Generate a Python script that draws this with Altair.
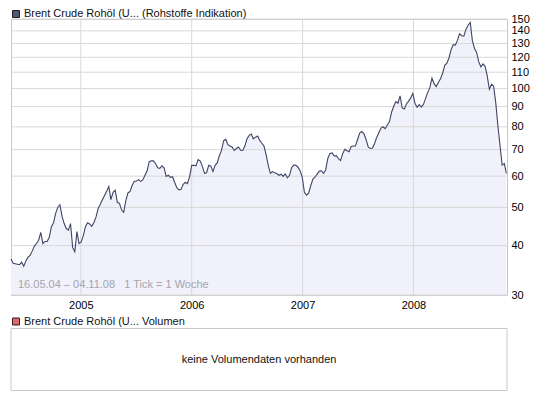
import altair as alt
import pandas as pd

# ---- data ----
start_date = "2004-05-16"
end_date = "2008-11-04"
prices = [
    37.0, 36.1, 36.0, 35.9, 35.8, 36.3, 35.5, 36.6, 37.4, 37.8,
    38.8, 39.9, 40.5, 41.3, 43.2, 40.5, 41.0, 41.0, 42.0, 44.7,
    45.7, 48.3, 50.0, 50.8, 47.5, 45.5, 44.2, 43.8, 45.5, 39.6,
    38.6, 43.4, 40.5, 40.9, 42.4, 44.7, 45.7, 45.4, 44.8, 45.8,
    47.3, 49.7, 50.9, 52.3, 53.6, 54.9, 56.5, 52.3, 54.6, 55.3,
    51.5, 51.2, 49.3, 48.6, 52.0, 54.4, 54.9, 56.9, 58.2, 58.3,
    58.8, 58.2, 58.7, 60.3, 61.8, 65.3, 65.6, 65.6, 64.5, 63.0,
    62.8, 63.7, 63.0, 59.9, 60.3, 59.6, 59.8, 57.8, 56.1, 55.4,
    55.6, 57.2, 57.9, 57.4, 59.8, 63.9, 63.9, 63.7, 66.1, 65.5,
    63.5, 61.0, 61.2, 63.9, 63.6, 61.7, 63.9, 64.8, 67.6, 69.7,
    73.7, 74.4, 72.1, 71.5, 71.1, 69.7, 70.5, 71.1, 69.8, 69.7,
    71.5, 74.6, 76.1, 76.7, 74.6, 75.3, 75.8, 73.9, 72.7, 71.5,
    67.9, 63.9, 61.0, 61.6, 61.2, 60.9, 60.3, 60.7, 59.9, 60.8,
    59.4, 60.3, 63.1, 64.0, 63.9, 63.2, 61.8, 59.6, 54.6, 53.7,
    54.3, 56.8, 59.0, 59.7, 60.7, 61.8, 61.9, 61.0, 62.2, 66.5,
    68.5, 68.7, 67.5, 67.6, 66.4, 65.7, 68.4, 70.2, 69.6, 69.2,
    71.3, 71.5, 71.5, 74.3, 77.1, 77.8, 76.8, 74.3, 71.1, 70.5,
    70.7, 72.6, 75.2, 77.3, 79.4, 80.0, 79.1, 80.8, 82.5, 87.1,
    90.2, 92.7, 91.8, 95.8, 89.3, 88.8, 91.4, 92.9, 94.7, 97.2,
    91.8, 89.7, 91.0, 89.7, 91.2, 94.4, 97.8, 100.5, 106.2, 102.9,
    101.1, 103.6, 105.8, 109.3, 114.5, 116.0, 119.5, 125.5, 129.1, 128.8,
    132.6, 137.7, 136.1, 135.7, 141.4, 144.6, 147.1, 132.2, 126.3, 123.4,
    116.8, 113.5, 115.4, 113.8, 107.5, 99.6, 102.6, 101.4, 92.0, 80.5,
    71.8, 64.0, 64.6, 61.0,
]
year_ticks = ["2005-01-01", "2006-01-01", "2007-01-01", "2008-01-01"]
y_ticks = [30, 40, 50, 60, 70, 80, 90, 100, 110, 120, 130, 140, 150]
title_main = ["Brent Crude Rohöl (U... (Rohstoffe Indikation)"]
title_vol = ["Brent Crude Rohöl (U... Volumen"]
range_note = ["16.05.04 – 04.11.08\u00a0\u00a0\u00a01 Tick = 1 Woche"]
no_volume = ["keine Volumendaten vorhanden"]

# ---- styling ----
W, H = 496, 276
FONT = "Liberation Sans"
LINE = "#3f4565"
FILL = "#f1f1fb"
GRID = "#d8d8d8"
BORDER = "#c8c8c8"

dates = pd.date_range(start_date, periods=len(prices), freq="7D")
df = pd.DataFrame({"date": dates, "price": prices})

x_scale = alt.Scale(domain=[alt.DateTime(year=2004, month=5, date=16),
                            alt.DateTime(year=2008, month=11, date=4)])
y_scale = alt.Scale(type="log", domain=[30, 150])
x_axis = alt.Axis(values=[alt.DateTime(year=int(s[:4]), month=1, date=1) for s in year_ticks],
                  format="%Y", title=None, ticks=False, domain=False,
                  labelPadding=4, grid=False)
y_axis = alt.Axis(orient="right", values=y_ticks, format="d", title=None,
                  ticks=False, domain=False, labelPadding=4, grid=False)

base = alt.Chart(df).encode(
    x=alt.X("date:T", scale=x_scale, axis=x_axis),
    y=alt.Y("price:Q", scale=y_scale, axis=y_axis),
)
area = base.mark_area(color=FILL).encode(y2=alt.datum(30))
line = base.mark_line(color=LINE, strokeWidth=1.1)

hgrid = alt.Chart(pd.DataFrame({"price": y_ticks})).mark_rule(
    color=GRID, strokeWidth=1).encode(
    y=alt.Y("price:Q", scale=y_scale, axis=y_axis))
vgrid = alt.Chart(pd.DataFrame({"date": pd.to_datetime(year_ticks)})).mark_rule(
    color=GRID, strokeWidth=1).encode(
    x=alt.X("date:T", scale=x_scale, axis=x_axis))


def one(values):
    return alt.Chart(pd.DataFrame({"t": values}))


leg1_sq = one(title_main).mark_square(size=49, fill="#4f5674", stroke="#1e1e2a",
                                      strokeWidth=1, opacity=1).encode(
    x=alt.value(5), y=alt.value(-5))
leg1_tx = one(title_main).mark_text(align="left", baseline="middle", font=FONT,
                                    fontSize=11, color="#111111").encode(
    x=alt.value(13), y=alt.value(-5), text="t:N")
note = one(range_note).mark_text(align="left", baseline="middle", font=FONT,
                                 fontSize=11, color="#a4a4ae").encode(
    x=alt.value(7), y=alt.value(266), text="t:N")

box = one(no_volume).mark_rect(fill="white", stroke=BORDER, strokeWidth=1).encode(
    x=alt.value(0), x2=alt.value(W), y=alt.value(309.5), y2=alt.value(371.5))
leg2_sq = one(title_vol).mark_square(size=49, fill="#d9696a", stroke="#3a1a1a",
                                     strokeWidth=1, opacity=1).encode(
    x=alt.value(5), y=alt.value(302.5))
leg2_tx = one(title_vol).mark_text(align="left", baseline="middle", font=FONT,
                                   fontSize=11, color="#111111").encode(
    x=alt.value(13), y=alt.value(302.5), text="t:N")
vol_tx = one(no_volume).mark_text(align="center", baseline="middle", font=FONT,
                                  fontSize=11, color="#111111").encode(
    x=alt.value(W / 2), y=alt.value(340.5), text="t:N")

chart = (
    alt.layer(area, hgrid, vgrid, line, note, leg1_sq, leg1_tx, box,
              leg2_sq, leg2_tx, vol_tx)
    .properties(width=W, height=H, padding=0, background="white")
    .configure_view(stroke=BORDER, strokeWidth=1)
    .configure_axis(labelFont=FONT, labelFontSize=11, labelColor="#000000")
)

chart.save("out.html", embed_options={"renderer": "svg", "actions": False})
